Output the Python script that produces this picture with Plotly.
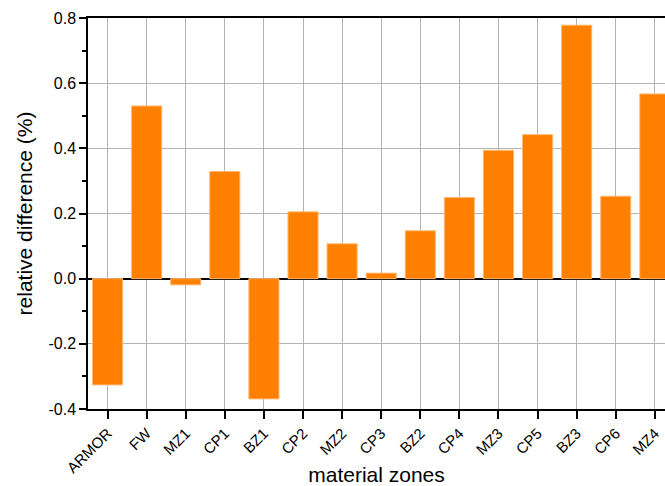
import plotly.graph_objects as go

# Material zones along the x-axis and their relative differences (%)
zones = ["ARMOR", "FW", "MZ1", "CP1", "BZ1", "CP2", "MZ2", "CP3",
         "BZ2", "CP4", "MZ3", "CP5", "BZ3", "CP6", "MZ4"]
rel_diff = [-0.326, 0.530, -0.019, 0.329, -0.369, 0.205, 0.107, 0.017,
            0.147, 0.249, 0.394, 0.442, 0.778, 0.253, 0.567]

y_ticks = [-0.4, -0.2, 0.0, 0.2, 0.4, 0.6, 0.8]
y_tick_labels = ["-0.4", "-0.2", "0.0", "0.2", "0.4", "0.6", "0.8"]

FONT = "Liberation Sans, Arial, sans-serif"

fig = go.Figure(
    go.Bar(
        x=list(range(len(zones))),
        y=rel_diff,
        width=0.77,
        marker=dict(color="#FF8000", line=dict(color="#FFB872", width=1)),
    )
)

fig.update_layout(
    width=665,
    height=486,
    margin=dict(l=88, r=0, t=18, b=77),
    plot_bgcolor="white",
    paper_bgcolor="white",
    showlegend=False,
    font=dict(family=FONT, color="black", size=15),
)

fig.update_xaxes(
    range=[-0.5, 14.26],
    automargin=False,
    tickmode="array",
    tickvals=list(range(len(zones))),
    ticktext=zones,
    tickangle=-45,
    tickfont=dict(size=15),
    ticks="outside",
    ticklen=8,
    tickwidth=1.5,
    tickcolor="black",
    showline=True,
    linecolor="black",
    linewidth=1.5,
    mirror=True,
    showgrid=True,
    gridcolor="#b4b4b4",
    gridwidth=1,
    title=dict(text="material zones", font=dict(size=21), standoff=0),
)

fig.update_yaxes(
    range=[-0.4, 0.8],
    automargin=False,
    tickmode="array",
    tickvals=y_ticks,
    ticktext=y_tick_labels,
    tickfont=dict(size=16),
    ticks="outside",
    ticklen=7,
    tickwidth=1.5,
    tickcolor="black",
    minor=dict(ticks="outside", dtick=0.1, tick0=0, ticklen=4,
               tickwidth=1.5, tickcolor="black", showgrid=False),
    showline=True,
    linecolor="black",
    linewidth=1.5,
    showgrid=True,
    gridcolor="#b4b4b4",
    gridwidth=1,
    zeroline=True,
    zerolinecolor="black",
    zerolinewidth=1.5,
    title=dict(text="relative difference (%)", font=dict(size=21), standoff=10),
)

fig.write_html("out.html")
